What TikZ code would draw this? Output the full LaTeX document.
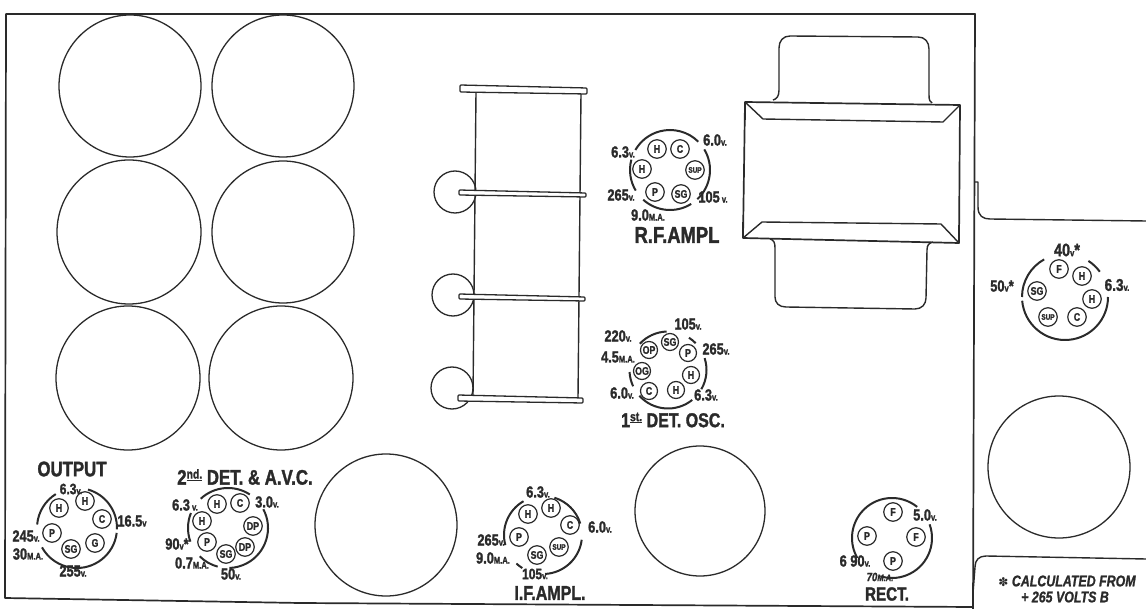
\documentclass[tikz,border=0pt]{standalone}
\usepackage{fontspec}
\setmainfont{Liberation Sans}
\newfontfamily\cond[FakeStretch=0.8,BoldFeatures={FakeBold=1.6},BoldItalicFeatures={FakeBold=1.2}]{Liberation Sans}
\newfontfamily\dingf{DejaVu Sans}
\definecolor{ink}{HTML}{2A2A2A}
\newcommand{\fs}[1]{\fontsize{#1}{#1}\selectfont}
\newcommand{\un}[1]{{\fs{9.5}#1}}
\newcommand{\sockarcs}[4]{%
  \foreach \a/\b in {#4} \draw[sockline] ({#1+#3*cos(\a)},{-#2+#3*sin(\a)}) arc[start angle=\a,end angle=\b,radius=#3];}
\newcommand{\raisedord}[1]{\raisebox{6pt}{\fs{13}\underline{#1}}}
\tikzset{
  x=1pt,y=1pt,
  line/.style={draw=ink,line width=1.4pt,line join=round},
  bigc/.style={draw=ink,line width=1.3pt},
  sockline/.style={draw=ink,line width=2pt},
  pinc/.style={circle,draw=ink,line width=1.2pt,minimum size=18.5pt,inner sep=0pt,fill=white,text=ink,font=\cond\bfseries\fs{11}},
  pins/.style={pinc,font=\cond\bfseries\fs{8}},
  lab/.style={inner sep=0pt,text=ink,font=\cond\bfseries\fs{16}},
  ttl/.style={inner sep=0pt,text=ink,font=\cond\bfseries\fs{23}},
  note/.style={inner sep=0pt,text=ink,font=\cond\bfseries\itshape\fs{15.5}},
  barb/.style={draw=ink,fill=white,line width=1.3pt,rounded corners=1pt},
}
\begin{document}
\begin{tikzpicture}
\useasboundingbox (0,-609) rectangle (1146,0);
% chassis
\draw[line,line width=1.7pt] (973,-609) -- (975,-14) -- (6,-14) -- (5,-598) -- (300,-603) -- (973,-607);
\draw[line] (975,-182) -- (978,-182) -- (978,-207) .. controls (978,-216) and (983,-219) .. (990,-219) -- (1146,-221);
\draw[line] (973,-593) -- (975,-567) .. controls (975,-560) and (979,-556) .. (986,-556) -- (1146,-559);
% large circles
\foreach \n/\cx/\cy/\r in {a/130/86/71,b/283/86/71,c/129/232/72,d/283/232/71,e/128/378/72,f/281/378/72,g/386/525/71,h/700/511/65,i/1059/467/71}
  \node[circle,bigc,minimum size=2*\r pt,inner sep=0pt] (big\n) at (\cx,-\cy) {};
% coil former
\draw[bigc] (455,-192) circle[radius=21];
\draw[bigc] (453,-295) circle[radius=21];
\draw[bigc] (452,-388) circle[radius=21];
\draw[line] (476,-92) -- (473,-396);
\draw[line] (581,-93) -- (578,-398);
\draw[barb] (460,-85) -- (587,-88) -- (587,-94) -- (460,-92) -- cycle;
\draw[barb] (459,-190) -- (586,-193) -- (586,-197) -- (459,-195) -- cycle;
\draw[barb] (459,-294) -- (585,-297) -- (585,-301) -- (459,-299) -- cycle;
\draw[barb] (458,-395) -- (583,-398) -- (583,-403) -- (458,-401) -- cycle;
% transformer
\draw[line] (773,-100) .. controls (777,-99) and (779,-96) .. (779,-90) -- (779,-48) .. controls (779,-41) and (783,-36) .. (790,-36) -- (918,-37) .. controls (925,-37) and (929,-42) .. (929,-49) -- (929,-95) .. controls (929,-100) and (930,-102) .. (932,-103);
\draw[line] (770,-239) .. controls (774,-240) and (775,-243) .. (775,-248) -- (775,-297) .. controls (775,-303) and (779,-307) .. (786,-307) -- (915,-309) .. controls (922,-309) and (926,-304) .. (926,-298) -- (927,-250) .. controls (927,-245) and (929,-243) .. (933,-242);
\draw[line,line width=1.7pt] (745,-102) -- (960,-105) -- (959,-243) -- (743,-238) -- cycle;
\draw[line] (745,-102) -- (763,-119) -- (943,-122) -- (960,-105);
\draw[line] (743,-238) -- (762,-222) -- (941,-224) -- (959,-243);
\foreach \xa/\ya/\yb in {745/103/120,960/105/120,743/222/238,959/225/243}
  \draw[ink,line width=2.6pt] (\xa,-\ya) -- (\xa,-\yb);

% R.F. AMPL
\sockarcs{670}{170}{40}{45/150,31/-47,-58/-132,165/211}
\node[pinc] (rfh1) at (657,-149) {H};
\node[pinc] (rfc) at (680,-149) {C};
\node[pins] (rfs) at (695,-170) {SUP};
\node[pinc] (rfg) at (681,-194) {SG};
\node[pinc] (rfp) at (655,-192) {P};
\node[pinc] (rfh2) at (642,-169) {H};
\node[lab] (rf1) at (623,-152) {6.3\un{v.}};
\node[lab] (rf2) at (715,-140) {6.0\un{v.}};
\node[lab] (rf3) at (621,-195) {265\un{v.}};
\node[lab] (rf4) at (713,-197) {105\un{ v.}};
\node[lab] (rf5) at (648,-215) {9.0\un{M.A.}};
\node[ttl] (rf6) at (677,-235) {R.F.AMPL};

% 1st DET OSC
\sockarcs{668}{370}{38.5}{137/92,57/44,18/-30,-51/-138,183/205}
\node[pinc,minimum size=17pt] (osg) at (670,-342) {SG};
\node[pinc,minimum size=17pt] (op) at (688,-353) {P};
\node[pinc,minimum size=17pt] (oh1) at (691,-375) {H};
\node[pinc,minimum size=17pt] (oh2) at (676,-390) {H};
\node[pinc,minimum size=17pt] (oc) at (649,-391) {C};
\node[pinc,minimum size=17pt] (oob) at (642,-371) {OG};
\node[pinc,minimum size=17pt] (oop) at (649,-350) {OP};
\node[lab] (o1) at (688,-324) {105\un{v.}};
\node[lab] (o2) at (618,-336) {220\un{v.}};
\node[lab] (o3) at (618,-357) {4.5\un{M.A.}};
\node[lab] (o4) at (716,-349) {265\un{v.}};
\node[lab] (o5) at (622,-393) {6.0\un{v.}};
\node[lab] (o6) at (706,-395) {6.3\un{v.}};
\node[ttl,font=\cond\bfseries\fs{20}] (o7) at (673,-420) {1\raisedord{st.} DET. OSC.};

% OUTPUT
\sockarcs{77}{528}{40}{74/-2,-7/-151,175/122}
\node[pinc] (oh) at (85,-501) {H};
\node[pinc] (ohb) at (59,-508) {H};
\node[pinc] (ocb) at (102,-519) {C};
\node[pinc] (ogb) at (95,-543) {G};
\node[pinc] (osb) at (71,-549) {SG};
\node[pinc] (opb) at (52,-533) {P};
\node[ttl,font=\cond\bfseries\fs{21}] (u0) at (72,-469) {OUTPUT};
\node[lab,font=\cond\bfseries\fs{15}] (u1) at (71,-489) {6.3\un{v.}};
\node[lab] (u2) at (132,-521) {16.5\un{v}};
\node[lab] (u3) at (26,-536) {245\un{v.}};
\node[lab] (u4) at (28,-554) {30\un{M.A.}};
\node[lab] (u5) at (73,-571) {255\un{v.}};

% 2nd DET
\sockarcs{228}{528}{40}{133/57,28/-88,-105/-135,158/200}
\node[pinc] (dh1) at (217,-504) {H};
\node[pinc] (dc) at (240,-503) {C};
\node[pinc] (dd1) at (253,-526) {DP};
\node[pinc] (dd2) at (245,-547) {DP};
\node[pinc] (ds) at (226,-554) {SG};
\node[pinc] (dp) at (207,-542) {P};
\node[pinc] (dh2) at (202,-521) {H};
\node[ttl,font=\cond\bfseries\fs{21}] (d0) at (245,-477) {2\raisedord{nd.} DET. \& A.V.C.};
\node[lab] (d1) at (185,-505) {6.3\un{ v.}};
\node[lab] (d2) at (267,-502) {3.0\un{v.}};
\node[lab] (d3) at (177,-544) {90\un{v}*};
\node[lab] (d4) at (192,-563) {0.7\un{M.A.}};
\node[lab] (d5) at (231,-574) {50\un{v.}};

% I.F. AMPL
\sockarcs{543}{535}{39}{73/17,-7/-87,120/195,-122/-133}
\node[pinc] (ih1) at (551,-508) {H};
\node[pinc] (ih2) at (528,-514) {H};
\node[pinc] (ic) at (570,-525) {C};
\node[pins] (is) at (559,-547) {SUP};
\node[pinc] (ig) at (537,-555) {SG};
\node[pinc] (ip) at (519,-537) {P};
\node[lab] (i1) at (538,-492) {6.3\un{v.}};
\node[lab] (i2) at (600,-527) {6.0\un{v.}};
\node[lab] (i3) at (491,-540) {265\un{v.}};
\node[lab] (i4) at (493,-558) {9.0\un{M.A.}};
\node[lab,font=\cond\bfseries\fs{15}] (i5) at (535,-574) {105\un{v.}};
\node[ttl,font=\cond\bfseries\fs{20}] (i6) at (550,-593) {I.F.AMPL.};

% RECT
\sockarcs{892}{538}{40}{51/210,20/-107}
\node[pinc] (rf1p) at (893,-512) {F};
\node[pinc] (rp1) at (867,-536) {P};
\node[pinc] (rf2p) at (916,-537) {F};
\node[pinc] (rp2) at (893,-561) {P};
\node[lab] (r1) at (925,-515) {5.0\un{v.}};
\node[lab] (r2) at (855,-561) {6 90\un{v.}};
\node[lab,font=\cond\bfseries\itshape\fs{12}] (r3) at (880,-577) {70\un{M.A.}};
\node[ttl,font=\cond\bfseries\fs{19}] (r4) at (887,-594) {RECT.};

% right socket
\sockarcs{1065}{297}{43}{119/180,185/360,57/36}
\node[pinc] (xf) at (1059,-269) {F};
\node[pinc] (xh1) at (1082,-276) {H};
\node[pinc] (xh2) at (1092,-299) {H};
\node[pinc] (xc) at (1077,-317) {C};
\node[pins] (xs) at (1048,-317) {SUP};
\node[pinc] (xg) at (1037,-291) {SG};
\node[lab,font=\cond\bfseries\fs{18}] (x1) at (1067,-250) {40\un{v}*};
\node[lab,font=\cond\bfseries\fs{16}] (x2) at (1002,-286) {50\un{v}*};
\node[lab,font=\cond\bfseries\fs{17}] (x3) at (1117,-285) {6.3\un{v.}};

% note
\node[note] (n1) at (1067,-581) {{\dingf\upshape\fs{12}✽} CALCULATED FROM};
\node[note] (n2) at (1065,-597) {+ 265 VOLTS B};
\end{tikzpicture}
\end{document}
